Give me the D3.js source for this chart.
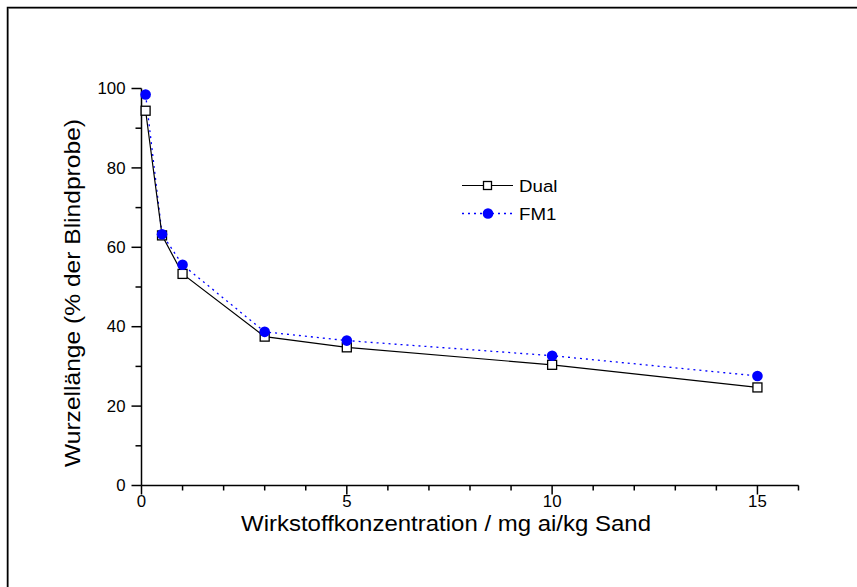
<!DOCTYPE html>
<html>
<head>
<meta charset="utf-8">
<script src="https://cdn.jsdelivr.net/npm/d3@7"></script>
<style>
  html, body { margin: 0; padding: 0; background: #fff; }
  svg { display: block; }
  text { font-family: "Liberation Sans", Arial, sans-serif; fill: #000; }
</style>
</head>
<body>
<svg id="chart" width="857" height="587"></svg>
<script>
const concentrations = [0.1, 0.5, 1, 3, 5, 10, 15];
const dualValues = [94.4, 63.0, 53.3, 37.5, 34.8, 30.4, 24.7];
const fm1Values = [98.5, 63.3, 55.6, 38.7, 36.5, 32.7, 27.6];
const seriesNames = ["Dual", "FM1"];
const xMajorTicks = [0, 5, 10, 15];
const yMajorTicks = [0, 20, 40, 60, 80, 100];
const xTitle = "Wirkstoffkonzentration / mg ai/kg Sand";
const yTitle = "Wurzellänge (% der Blindprobe)";

const svg = d3.select("#chart");

// outer frame
svg.append("rect").attr("x", 8.5).attr("y", 8.5).attr("width", 900).attr("height", 700)
  .attr("fill", "none").attr("stroke", "#999").attr("stroke-width", 1);
svg.append("rect").attr("x", 7.5).attr("y", 7.5).attr("width", 900).attr("height", 700)
  .attr("fill", "none").attr("stroke", "#000").attr("stroke-width", 1.5);

const x = d3.scaleLinear().domain([0, 16]).range([141.5, 798.5]);
const y = d3.scaleLinear().domain([0, 100]).range([485.5, 88.5]);

// x axis
const gx = svg.append("g").attr("transform", `translate(0,${y(0)})`);
gx.append("line").attr("x1", x(0)).attr("x2", x(16)).attr("stroke", "#000").attr("stroke-width", 1.5);
gx.selectAll(".minor").data(d3.range(0, 17)).join("line")
  .attr("x1", d => x(d)).attr("x2", d => x(d))
  .attr("y1", 0).attr("y2", d => xMajorTicks.includes(d) ? 9 : 5)
  .attr("stroke", "#000").attr("stroke-width", 1.5);
gx.selectAll(".lbl").data(xMajorTicks).join("text")
  .attr("transform", d => `translate(${x(d)},21.5) scale(1.05,1)`)
  .attr("text-anchor", "middle")
  .attr("font-size", 16).text(d => d);

// y axis
const gy = svg.append("g").attr("transform", `translate(${x(0)},0)`);
gy.append("line").attr("y1", y(0)).attr("y2", y(100)).attr("stroke", "#000").attr("stroke-width", 1.5);
gy.selectAll(".tk").data(d3.range(0, 101, 10)).join("line")
  .attr("y1", d => y(d)).attr("y2", d => y(d))
  .attr("x1", 0).attr("x2", d => yMajorTicks.includes(d) ? -10 : -6)
  .attr("stroke", "#000").attr("stroke-width", 1.5);
gy.selectAll(".lbl").data(yMajorTicks).join("text")
  .attr("transform", d => `translate(-16,${y(d) + 5.7}) scale(1.05,1)`)
  .attr("text-anchor", "end")
  .attr("font-size", 16).text(d => d);

// titles
svg.append("text").attr("x", 446).attr("y", 531)
  .attr("text-anchor", "middle").attr("font-size", 22)
  .attr("textLength", 410).attr("lengthAdjust", "spacingAndGlyphs").text(xTitle);
svg.append("text").attr("transform", `translate(80,293) rotate(-90)`)
  .attr("text-anchor", "middle").attr("font-size", 22)
  .attr("textLength", 348).attr("lengthAdjust", "spacingAndGlyphs").text(yTitle);

const dual = concentrations.map((c, i) => [c, dualValues[i]]);
const fm1 = concentrations.map((c, i) => [c, fm1Values[i]]);
const line = d3.line().x(d => x(d[0])).y(d => y(d[1]));

// FM1 dotted blue
svg.append("path").attr("d", line(fm1)).attr("fill", "none")
  .attr("stroke", "#0000ff").attr("stroke-width", 1.3).attr("stroke-dasharray", "2,4");
// Dual solid black
svg.append("path").attr("d", line(dual)).attr("fill", "none")
  .attr("stroke", "#000").attr("stroke-width", 1.2);

svg.selectAll(".sq").data(dual).join("rect")
  .attr("x", d => x(d[0]) - 4.5).attr("y", d => y(d[1]) - 4.5)
  .attr("width", 9).attr("height", 9)
  .attr("fill", "#fff").attr("stroke", "#000").attr("stroke-width", 1.3);
svg.selectAll(".ci").data(fm1).join("circle")
  .attr("cx", d => x(d[0])).attr("cy", d => y(d[1])).attr("r", 5.3)
  .attr("fill", "#0000ff");

// legend
const lg = svg.append("g");
lg.append("line").attr("x1", 462).attr("x2", 513).attr("y1", 185.5).attr("y2", 185.5)
  .attr("stroke", "#000").attr("stroke-width", 1.2);
lg.append("rect").attr("x", 483.5).attr("y", 181.5).attr("width", 8).attr("height", 8)
  .attr("fill", "#fff").attr("stroke", "#000").attr("stroke-width", 1.3);
lg.append("text").attr("transform", "translate(519,192) scale(1.1,1)").attr("font-size", 17).text(seriesNames[0]);
lg.append("line").attr("x1", 462).attr("x2", 513).attr("y1", 213.5).attr("y2", 213.5)
  .attr("stroke", "#0000ff").attr("stroke-width", 1.3).attr("stroke-dasharray", "2,4");
lg.append("circle").attr("cx", 488).attr("cy", 213.5).attr("r", 5.3).attr("fill", "#0000ff");
lg.append("text").attr("transform", "translate(519,220) scale(1.1,1)").attr("font-size", 17).text(seriesNames[1]);
</script>
</body>
</html>
